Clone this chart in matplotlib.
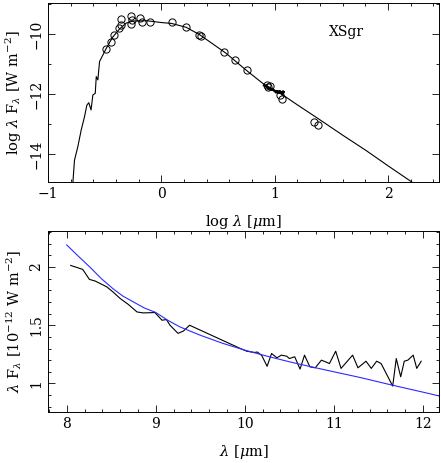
import matplotlib
matplotlib.use("Agg")
import matplotlib.pyplot as plt
import numpy as np
from matplotlib.ticker import MultipleLocator, FormatStrFormatter

plt.rcParams['font.family'] = 'DejaVu Serif'
plt.rcParams['mathtext.fontset'] = 'dejavuserif'

# --- top panel: model SED (log lambda [um], log lambda F_lambda [W m^-2])
sed_logl = [-0.78, -0.766, -0.737, -0.707, -0.678, -0.657, -0.64, -0.62, -0.604,
            -0.583, -0.574, -0.56, -0.545, -0.49, -0.43, -0.37, -0.31, -0.25,
            -0.13, 0.0, 0.09, 0.22, 0.34, 0.57, 0.75, 0.903, 1.0, 1.079,
            1.2, 1.38, 1.6, 1.81, 2.0, 2.21]
sed_logf = [-14.92, -14.19, -13.75, -13.19, -12.75, -12.36, -12.28, -12.52, -12.02,
            -11.97, -11.41, -11.52, -10.91, -10.5, -10.1, -9.83, -9.63, -9.56,
            -9.55, -9.61, -9.64, -9.77, -10.02, -10.63, -11.2, -11.66, -11.86, -12.04,
            -12.35, -12.80, -13.36, -13.88, -14.38, -14.92]

# photometry (circles)
phot_logl = [-0.49, -0.44, -0.42, -0.37, -0.36, -0.36, -0.27, -0.265, -0.26, -0.19,
             -0.17, -0.10, 0.09, 0.22, 0.33, 0.35, 0.55, 0.65, 0.76, 0.93, 0.955,
             0.94, 1.044, 1.068, 1.344, 1.38]
phot_logf = [-10.5, -10.25, -10.02, -9.78, -9.69, -9.49, -9.67, -9.38, -9.52, -9.47,
             -9.58, -9.58, -9.58, -9.75, -10.01, -10.05, -10.58, -10.86, -11.19, -11.69,
             -11.72, -11.75, -12.02, -12.14, -12.91, -13.02]

# --- bottom panel: IRAS LRS spectrum (lambda [um], lambda F_lambda [1e-12 W m^-2])
lrs_wl = [8.045, 8.18, 8.255, 8.32, 8.45, 8.52, 8.6, 8.69, 8.79, 8.86, 8.99, 9.07,
          9.12, 9.16, 9.25, 9.31, 9.38, 9.95, 10.02, 10.11, 10.14, 10.19, 10.25, 10.3,
          10.36, 10.41, 10.47, 10.5, 10.56, 10.62, 10.67, 10.73, 10.79, 10.86, 10.95,
          11.02, 11.08, 11.21, 11.27, 11.36, 11.42, 11.48, 11.53, 11.66, 11.7, 11.75,
          11.79, 11.83, 11.89, 11.93, 11.98]
lrs_flux = [2.014, 1.98, 1.894, 1.88, 1.83, 1.786, 1.73, 1.68, 1.614, 1.606, 1.609, 1.543,
            1.549, 1.5, 1.43, 1.45, 1.5, 1.3, 1.277, 1.266, 1.27, 1.24, 1.147, 1.257,
            1.22, 1.243, 1.234, 1.214, 1.229, 1.123, 1.243, 1.143, 1.134, 1.2, 1.171,
            1.277, 1.129, 1.243, 1.134, 1.191, 1.129, 1.191, 1.171, 0.977, 1.214, 1.057,
            1.191, 1.2, 1.243, 1.129, 1.191]

# model in the same window
mod_wl = [8.0, 8.13, 8.26, 8.39, 8.52, 8.63, 8.75, 8.87, 9.0, 9.13, 9.27, 9.5, 9.75,
          10.0, 10.25, 10.5, 10.75, 11.0, 11.3, 11.65, 12.0, 12.2]
mod_flux = [2.19, 2.094, 2.0, 1.9, 1.814, 1.751, 1.7, 1.649, 1.61, 1.545, 1.486, 1.414,
            1.345, 1.286, 1.234, 1.186, 1.142, 1.1, 1.05, 0.986, 0.925, 0.889]

fig = plt.figure(figsize=(4.41, 4.63), dpi=100)
ax1 = fig.add_axes([0.1088, 0.6069, 0.8867, 0.3866])
ax2 = fig.add_axes([0.1088, 0.1108, 0.8867, 0.3903])

lw = 0.8
ax1.plot(sed_logl, sed_logf, color='black', lw=lw)
ax1.plot(np.log10(lrs_wl), np.log10(np.array(lrs_flux) * 1e-12), color='black', lw=1.6)
ax1.plot(phot_logl, phot_logf, 'o', mfc='none', mec='black', ms=5.2, mew=0.7)
ax1.text(1.63, -9.91, 'XSgr', ha='center', va='center', fontsize=10)
ax1.set_xlim(-1.0, 2.45)
ax1.set_ylim(-14.92, -8.96)
ax1.xaxis.set_major_locator(MultipleLocator(1))
ax1.xaxis.set_minor_locator(MultipleLocator(0.2))
ax1.yaxis.set_major_locator(MultipleLocator(2))
ax1.yaxis.set_minor_locator(MultipleLocator(1))
ax1.set_xlabel(r'log $\lambda$ [$\mu$m]', fontsize=10.5, labelpad=9)
ax1.set_ylabel(r'log $\lambda$ F$_\lambda$ [W m$^{-2}$]', fontsize=10.5, labelpad=4)

ax2.plot(lrs_wl, lrs_flux, color='black', lw=lw)
ax2.plot(mod_wl, mod_flux, color='#2b2bff', lw=lw)
ax2.set_xlim(7.79, 12.18)
ax2.set_ylim(0.757, 2.31)
ax2.xaxis.set_major_locator(MultipleLocator(1))
ax2.xaxis.set_minor_locator(MultipleLocator(0.2))
ax2.yaxis.set_major_locator(MultipleLocator(0.5))
ax2.yaxis.set_minor_locator(MultipleLocator(0.1))
ax2.yaxis.set_major_formatter(FormatStrFormatter('%g'))
ax2.set_xlabel(r'$\lambda$ [$\mu$m]', fontsize=10.5, labelpad=9)
ax2.set_ylabel(r'$\lambda$ F$_\lambda$ [10$^{-12}$ W m$^{-2}$]', fontsize=10.5, labelpad=4)

for ax in (ax1, ax2):
    ax.tick_params(which='both', direction='in', top=True, right=True, width=0.6,
                   labelsize=10)
    ax.tick_params(which='major', length=5)
    ax.tick_params(which='minor', length=2.5)
    ax.tick_params(axis='y', labelrotation=90)
    for lab in ax.get_yticklabels():
        lab.set_va('center')
    for s in ax.spines.values():
        s.set_linewidth(0.7)

fig.savefig('out.png', dpi=100)
